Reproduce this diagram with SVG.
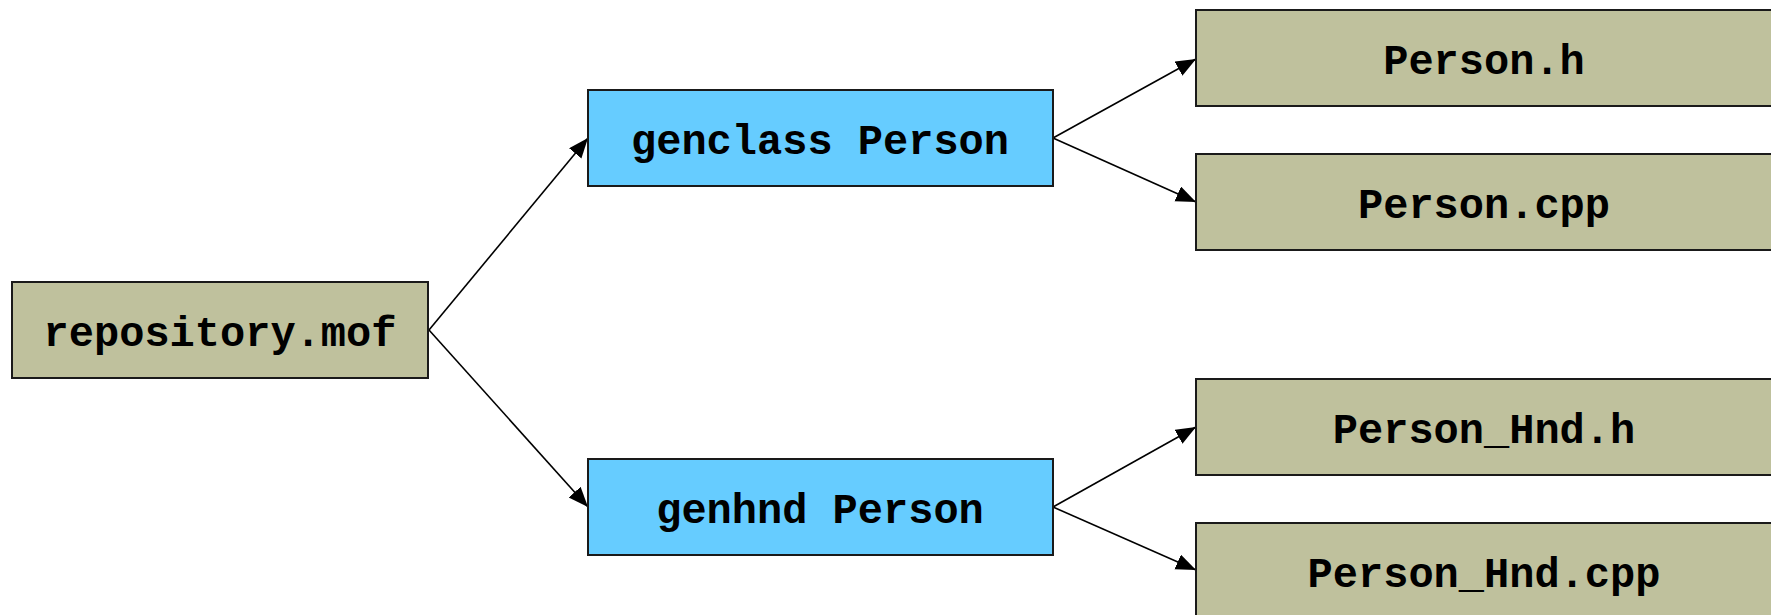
<svg xmlns="http://www.w3.org/2000/svg" width="1771" height="615" viewBox="0 0 1771 615">
<style>
.file{fill:#BFC19D;stroke:#1a1a1a;stroke-width:2}
.tool{fill:#66CCFF;stroke:#1a1a1a;stroke-width:2}
.lbl{font-family:"Liberation Mono","Courier New",monospace;font-weight:bold;font-size:42px;fill:#000;text-anchor:middle}
.conn{stroke:#000;stroke-width:1.6;fill:none;marker-end:url(#arr)}
</style>
<defs>
<marker id="arr" markerUnits="userSpaceOnUse" markerWidth="22" markerHeight="18" refX="20" refY="8" orient="auto">
<path d="M0,0 L20,8 L0,16 z" fill="#000"/>
</marker>
</defs>
<rect width="1771" height="615" fill="#fff"/>
<g id="connectors">
<line class="conn" x1="429" y1="330" x2="588" y2="138"/>
<line class="conn" x1="429" y1="330" x2="588" y2="507"/>
<line class="conn" x1="1053" y1="138" x2="1196" y2="59"/>
<line class="conn" x1="1053" y1="138" x2="1196" y2="202"/>
<line class="conn" x1="1053" y1="507" x2="1196" y2="427"/>
<line class="conn" x1="1053" y1="507" x2="1196" y2="570"/>
</g>
<g id="repository">
<rect class="file" x="12" y="282" width="416" height="96"/>
<text class="lbl" x="220" y="346">repository.mof</text>
</g>
<g id="genclass">
<rect class="tool" x="588" y="90" width="465" height="96"/>
<text class="lbl" x="820" y="154">genclass Person</text>
</g>
<g id="genhnd">
<rect class="tool" x="588" y="459" width="465" height="96"/>
<text class="lbl" x="820" y="523">genhnd Person</text>
</g>
<g id="person_h">
<rect class="file" x="1196" y="10" width="600" height="96"/>
<text class="lbl" x="1484" y="74">Person.h</text>
</g>
<g id="person_cpp">
<rect class="file" x="1196" y="154" width="600" height="96"/>
<text class="lbl" x="1484" y="218">Person.cpp</text>
</g>
<g id="person_hnd_h">
<rect class="file" x="1196" y="379" width="600" height="96"/>
<text class="lbl" x="1484" y="443">Person_Hnd.h</text>
</g>
<g id="person_hnd_cpp">
<rect class="file" x="1196" y="523" width="600" height="96"/>
<text class="lbl" x="1484" y="587">Person_Hnd.cpp</text>
</g>
</svg>
